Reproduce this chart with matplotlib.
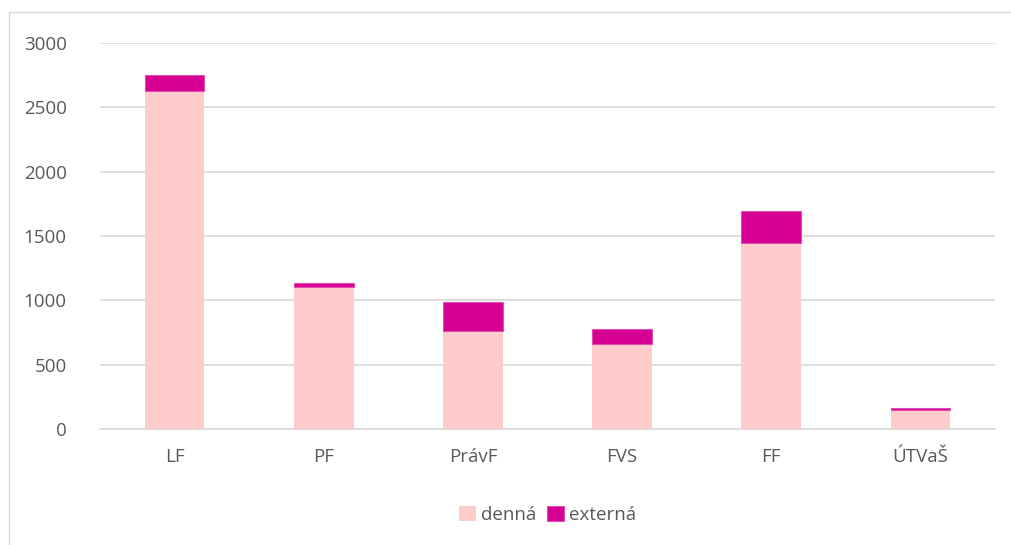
import matplotlib.pyplot as plt
from matplotlib.patches import Rectangle
import numpy as np

# data
fakulty = ["LF", "PF", "PrávF", "FVS", "FF", "ÚTVaŠ"]
denna = [2630, 1100, 761, 658, 1447, 150]
externa = [124, 31, 225, 118, 251, 12]
yticks = [0, 500, 1000, 1500, 2000, 2500, 3000]

plt.rcParams["font.family"] = ["Open Sans", "DejaVu Sans"]

fig = plt.figure(figsize=(10.11, 5.45), dpi=100)
ax = fig.add_axes([100 / 1011, 1 - 429 / 545, 895 / 1011, 386 / 545])

x = np.arange(len(fakulty))
ax.bar(x, denna, width=0.4, color="#FFCCCC", label="denná", zorder=3)
ax.bar(x, externa, width=0.4, bottom=denna, color="#D60093",
       edgecolor="#DE4FAE", linewidth=0.8, label="externá", zorder=3)

ax.set_xlim(-0.5, len(fakulty) - 0.5)
ax.set_ylim(0, 3000)
ax.set_yticks(yticks)
ax.set_xticks(x)
ax.set_xticklabels(fakulty)
ax.grid(axis="y", color="#D9D9D9", linewidth=1.2, zorder=0)
for s in ["top", "right", "left"]:
    ax.spines[s].set_visible(False)
ax.spines["bottom"].set_color("#D9D9D9")
ax.spines["bottom"].set_linewidth(1.2)
ax.tick_params(axis="both", length=0, labelsize=13.5, colors="#595959")
ax.tick_params(axis="y", pad=24)
ax.tick_params(axis="x", pad=14)

ax.legend(loc="upper center", bbox_to_anchor=(0.5, -0.155), ncols=2,
          frameon=False, fontsize=13.5, labelcolor="#595959",
          handlelength=0.9, handleheight=0.9, handletextpad=0.25,
          columnspacing=0.6)

# light border around the chart area
fig.patches.append(Rectangle((9 / 1011, -0.01), 1.0, 1 - 12 / 545 + 0.01,
                             transform=fig.transFigure, fill=False,
                             edgecolor="#D9D9D9", linewidth=1))

plt.savefig("out.png", dpi=100)
